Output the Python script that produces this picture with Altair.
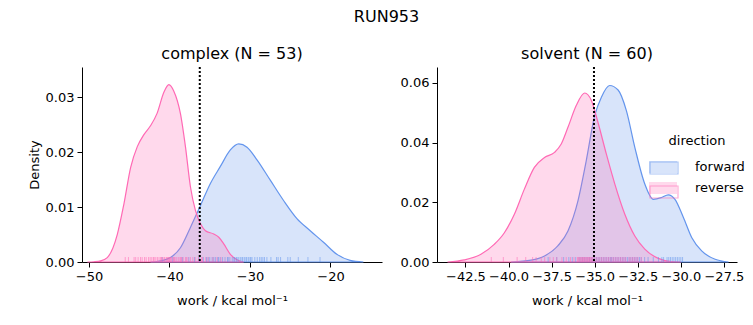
import altair as alt
import pandas as pd

FONT = "DejaVu Sans"
directions = ["forward", "reverse"]
palette = ["#6495ED", "#FF69B4"]

# ---- complex panel: KDE curves ----
complex_fwd_x = [-42.36, -41.12, -39.88, -38.64, -37.40, -36.24, -34.92, -33.68, -32.44, -31.40,
                 -30.37, -29.13, -27.48, -25.83, -24.17, -22.52, -20.87, -19.21, -17.56, -15.91]
complex_fwd_y = [0.0, 0.0002, 0.0008, 0.0026, 0.0063, 0.0100, 0.0143, 0.0174, 0.0204, 0.0215,
                 0.0209, 0.0186, 0.0149, 0.0112, 0.0079, 0.0057, 0.0036, 0.0014, 0.0003, 0.0]
complex_rev_x = [-50.2, -49.4, -48.55, -47.73, -46.49, -45.66, -44.83, -44.0, -43.18, -42.36, -41.53,
                 -40.70, -40.08, -39.46, -38.64, -38.02, -37.40, -36.78, -36.16, -35.54, -34.50,
                 -33.88, -33.26, -32.44, -31.61, -30.79]
complex_rev_y = [0.0, 0.00005, 0.0002, 0.0008, 0.005, 0.0106, 0.0172, 0.021, 0.0232, 0.0248, 0.0271,
                 0.0309, 0.0323, 0.0311, 0.0270, 0.0210, 0.0137, 0.0094, 0.0070, 0.0057, 0.0051,
                 0.0045, 0.0033, 0.0014, 0.0004, 0.0]

# ---- solvent panel ----
solvent_fwd_x = [-39.85, -38.69, -37.91, -37.14, -36.55, -35.97, -35.49, -35.0, -34.61, -34.13,
                 -33.64, -33.16, -32.67, -32.09, -31.60, -31.12, -30.73, -30.34, -29.85, -29.37,
                 -28.79, -28.01, -27.23]
solvent_fwd_y = [0.0, 0.0006, 0.0020, 0.0054, 0.0104, 0.0205, 0.0339, 0.0490, 0.0552, 0.0591,
                 0.0576, 0.0507, 0.0384, 0.0261, 0.0210, 0.0216, 0.0225, 0.0210, 0.0149, 0.0082,
                 0.0037, 0.0009, 0.0]
solvent_rev_x = [-43.54, -42.57, -41.60, -40.83, -40.24, -39.66, -39.08, -38.50, -37.91, -37.33,
                 -36.94, -36.55, -36.07, -35.58, -35.19, -34.81, -34.32, -33.83, -33.25, -32.67,
                 -32.09, -31.31, -30.53, -30.0]
solvent_rev_y = [0.0, 0.0007, 0.0026, 0.0059, 0.0098, 0.0160, 0.0244, 0.0317, 0.0350, 0.0367,
                 0.0395, 0.0451, 0.0524, 0.0566, 0.0541, 0.0468, 0.0361, 0.0261, 0.0160, 0.0087,
                 0.0043, 0.0012, 0.0001, 0.0]

# ---- rug samples (work values) ----
complex_fwd_rug = [-40.9, -39.6, -38.4, -37.6, -36.9, -36.3, -35.8, -35.4, -35.2, -35.0, -34.7, -34.5,
                   -34.3, -34.0, -33.9, -33.7, -33.4, -33.1, -32.8, -32.7, -32.5, -32.2, -32.0, -31.9,
                   -31.7, -31.6, -31.4, -31.2, -31.0, -30.9, -30.7, -30.5, -30.4, -30.2, -30.0, -29.9,
                   -29.75, -29.4, -29.1, -28.8, -28.6, -28.4, -28.2, -27.9, -27.4, -26.7, -26.5, -26.2,
                   -25.3, -25.0, -24.0, -22.8, -21.3]
complex_rev_rug = [-45.5, -45.1, -44.4, -44.2, -43.9, -43.6, -43.4, -43.1, -42.9, -42.6, -42.4, -42.2,
                   -42.0, -41.9, -41.7, -41.5, -41.3, -41.1, -41.0, -40.9, -40.7, -40.6, -40.4, -40.3,
                   -40.2, -40.1, -40.0, -39.9, -39.8, -39.7, -39.5, -39.4, -39.3, -39.1, -38.9, -38.7,
                   -38.6, -38.5, -38.3, -38.0, -37.9, -37.7, -37.4, -37.1, -36.8, -36.4, -36.0, -35.9,
                   -35.5, -35.2, -34.6, -34.1, -33.6]
solvent_fwd_rug = [-37.7, -37.2, -36.8, -36.5, -36.3, -36.1, -35.9, -35.8, -35.7, -35.6, -35.5, -35.4,
                   -35.3, -35.2, -35.1, -35.0, -34.9, -34.8, -34.7, -34.6, -34.5, -34.4, -34.3, -34.2,
                   -34.1, -34.0, -33.9, -33.8, -33.7, -33.6, -33.5, -33.4, -33.3, -33.2, -33.1, -33.0,
                   -32.9, -32.8, -32.7, -32.6, -32.5, -32.3, -32.1, -31.9, -31.3, -31.1, -31.0, -30.8,
                   -30.7, -30.6, -30.5, -30.4, -30.3, -30.2, -30.1, -30.0, -29.9, -31.6, -32.4, -34.05]
solvent_rev_rug = [-41.0, -40.3, -39.5, -39.0, -38.6, -38.4, -38.1, -37.9, -37.6, -37.4, -37.2, -36.9,
                   -36.65, -36.4, -36.2, -36.0, -35.95, -35.9, -35.85, -35.8, -35.75, -35.7, -35.65,
                   -35.6, -35.55, -35.5, -35.45, -35.4, -35.35, -35.3, -35.25, -35.2, -35.15, -35.1,
                   -35.0, -34.9, -34.8, -34.7, -34.6, -34.5, -34.4, -34.3, -34.2, -34.1, -34.0, -33.9,
                   -33.8, -33.7, -33.6, -33.5, -33.4, -33.3, -33.2, -33.0, -32.9, -32.8, -32.7, -32.6,
                   -32.5, -32.3]

complex_estimate = -36.24
solvent_estimate = -35.04

x_title = "work / kcal mol\u207b\u00b9"
fill_scale = alt.Scale(domain=directions, range=palette)
# stroke scale gets an extra unused domain entry so its legend is not merged with the fill legend
stroke_scale = alt.Scale(domain=directions + ["none"], range=palette + ["transparent"])

LEG_X, LEG_Y = 567, 68
fill_legend = alt.Legend(
    title="direction", orient="none", legendX=LEG_X, legendY=LEG_Y,
    symbolOpacity=0.25, symbolStrokeColor="transparent", symbolStrokeWidth=0,
)
stroke_legend = alt.Legend(
    title=" ", orient="none", legendX=LEG_X, legendY=LEG_Y,
    values=directions, labelExpr="''",
    symbolFillColor="transparent", symbolStrokeWidth=1.2,
)


def panel(fx, fy, rx, ry, rug_f, rug_r, est, xdom, ydom, xticks, yticks, xfmt, title, ytitle):
    dirs = ["forward"] * len(fx) + ["reverse"] * len(rx)
    curves = pd.DataFrame({
        "work": fx + rx,
        "density": fy + ry,
        "direction": dirs,
        "direction_line": dirs,
    })
    rug_dirs = ["forward"] * len(rug_f) + ["reverse"] * len(rug_r)
    rugs = pd.DataFrame({"work": rug_f + rug_r, "direction_line": rug_dirs})
    est_df = pd.DataFrame({"work": [est]})
    x = alt.X("work:Q", scale=alt.Scale(domain=xdom, nice=False, zero=False),
              axis=alt.Axis(values=xticks, format=xfmt, title=x_title, titlePadding=11))
    if ytitle:
        y_axis = alt.Axis(values=yticks, format=".2f", title=ytitle)
    else:
        y_axis = alt.Axis(values=yticks, format=".2f", title=None)
    y = alt.Y("density:Q", scale=alt.Scale(domain=ydom, nice=False), axis=y_axis, stack=None)
    area = alt.Chart(curves).mark_area(
        fillOpacity=0.25, strokeWidth=1.2, interpolate="monotone"
    ).encode(
        x=x, y=y,
        fill=alt.Fill("direction:N", scale=fill_scale, legend=fill_legend),
        stroke=alt.Stroke("direction_line:N", scale=stroke_scale, legend=stroke_legend),
    )
    rug = alt.Chart(rugs).mark_rule(strokeWidth=1, opacity=0.55).encode(
        x="work:Q", y=alt.value(190), y2=alt.value(195),
        stroke=alt.Stroke("direction_line:N", scale=stroke_scale, legend=stroke_legend),
    )
    vline = alt.Chart(est_df).mark_rule(color="black", strokeDash=[2, 2], strokeWidth=2).encode(
        x="work:Q"
    )
    return alt.layer(area, rug, vline).properties(
        width=300, height=195,
        title=alt.TitleParams(title, fontSize=16, fontWeight="normal", font=FONT, offset=4),
    )


left = panel(complex_fwd_x, complex_fwd_y, complex_rev_x, complex_rev_y,
             complex_fwd_rug, complex_rev_rug, complex_estimate,
             [-50.87, -13.6], [0, 0.0355], [-50, -40, -30, -20], [0, 0.01, 0.02, 0.03], "d",
             "complex (N = 53)", "Density")
right = panel(solvent_fwd_x, solvent_fwd_y, solvent_rev_x, solvent_rev_y,
              solvent_fwd_rug, solvent_rev_rug, solvent_estimate,
              [-44.15, -26.74], [0, 0.0653], [-42.5, -40, -37.5, -35, -32.5, -30, -27.5],
              [0, 0.02, 0.04, 0.06], ".1f", "solvent (N = 60)", "")

chart = alt.hconcat(left, right, spacing=18).properties(
    title=alt.TitleParams("RUN953", fontSize=16, fontWeight="normal", font=FONT,
                          anchor="middle", offset=21),
    padding={"left": 20, "top": 1, "right": 0, "bottom": 5},
).configure_view(stroke=None).configure_axis(
    labelFont=FONT, titleFont=FONT, labelFontSize=13, titleFontSize=13,
    titleFontWeight="normal", labelColor="black", titleColor="black",
    tickColor="black", domainColor="black", tickSize=5, grid=False, zindex=1,
    labelPadding=3,
).configure_legend(
    titleFont=FONT, labelFont=FONT, titleFontSize=13, labelFontSize=13,
    titleFontWeight="normal", titleColor="black", labelColor="black",
    titleAnchor="middle", titleAlign="center", padding=0,
    symbolType="M-1,-0.43L1,-0.43L1,0.43L-1,0.43Z", symbolSize=784,
    rowPadding=0, labelOffset=18,
).configure_title(color="black")

chart.save("out.html", embed_options={"renderer": "svg", "actions": False})
